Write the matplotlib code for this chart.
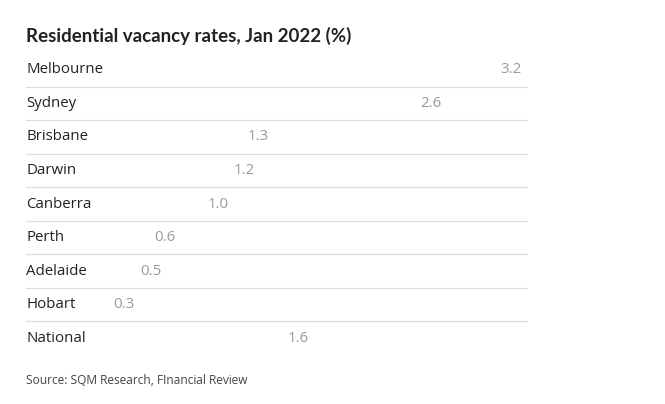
import matplotlib
matplotlib.use("Agg")
import matplotlib.pyplot as plt
import matplotlib.transforms as mtransforms

# Data
cities = ["Melbourne", "Sydney", "Brisbane", "Darwin", "Canberra",
          "Perth", "Adelaide", "Hobart", "National"]
rates = [3.2, 2.6, 1.3, 1.2, 1.0, 0.6, 0.5, 0.3, 1.6]

title = "Residential vacancy rates, Jan 2022 (%)"
source = "Source: SQM Research, FInancial Review"

plt.rcParams['font.family'] = ['Open Sans', 'DejaVu Sans']

W, H = 665, 404
fig = plt.figure(figsize=(W / 100, H / 100), dpi=100)
fig.patch.set_facecolor("white")

# axes spans the row block: x 26..528 px, y 53..355 px
ax = fig.add_axes([26 / W, 1 - 355 / H, (528 - 26) / W, (355 - 53) / H])
ax.set_xlim(-0.517, 3.246)
ax.set_ylim(len(cities) - 0.5, -0.5)
ax.axis("off")

ypos = list(range(len(cities)))
# bars are white in the original graphic
ax.barh(ypos, rates, left=0, height=0.8, color="white", zorder=1)

for i in range(len(cities) - 1):
    ax.axhline(i + 0.5, color="#dddddd", lw=0.9, zorder=2)

trans = mtransforms.blended_transform_factory(ax.transAxes, ax.transData)
for y, name, v in zip(ypos, cities, rates):
    ax.text(0, y, name, transform=trans, ha="left", va="center",
            fontsize=10.8, color="#222222", zorder=3)
    ax.text(v, y, f"{v:.1f}", ha="right", va="center",
            fontsize=10.8, color="#9a9a9a", zorder=3)

fig.text(26 / W, 1 - 36 / H, title, ha="left", va="center",
         fontsize=13.5, fontweight="bold", color="#222222", family="Lato")
fig.text(26 / W, 1 - 380 / H, source, ha="left", va="center",
         fontsize=8.6, color="#444444")

fig.savefig("out.png", dpi=100, facecolor="white")
